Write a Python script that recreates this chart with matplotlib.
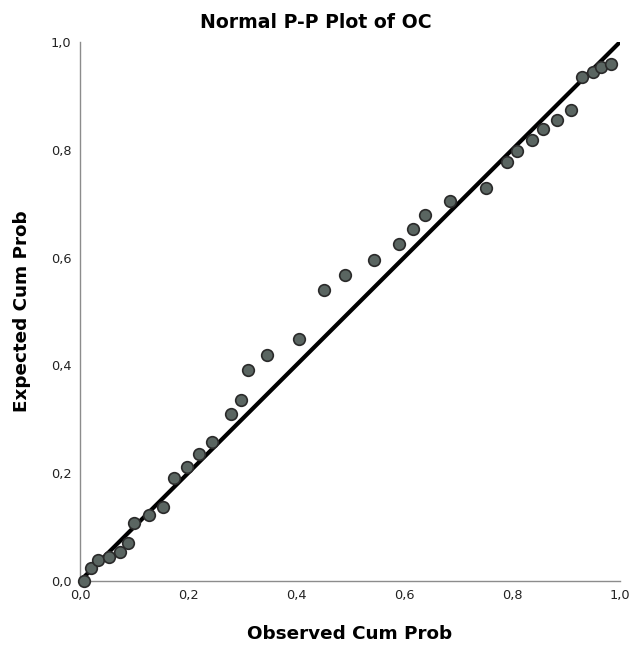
import matplotlib.pyplot as plt
from matplotlib.ticker import FuncFormatter

# Observed vs expected cumulative probabilities
observed = [0.007, 0.020, 0.034, 0.054, 0.074, 0.088, 0.100, 0.127, 0.154,
            0.174, 0.199, 0.220, 0.245, 0.279, 0.299, 0.312, 0.346, 0.405,
            0.452, 0.491, 0.544, 0.591, 0.617, 0.638, 0.685, 0.751, 0.790,
            0.810, 0.837, 0.857, 0.883, 0.910, 0.930, 0.950, 0.964, 0.983]
expected = [0.000, 0.024, 0.039, 0.045, 0.054, 0.071, 0.107, 0.122, 0.138,
            0.192, 0.212, 0.235, 0.258, 0.309, 0.335, 0.391, 0.419, 0.449,
            0.539, 0.568, 0.596, 0.625, 0.653, 0.679, 0.705, 0.730, 0.777,
            0.798, 0.819, 0.839, 0.856, 0.873, 0.935, 0.944, 0.953, 0.960]
diag = [0.0, 1.0]
ticks = [0.0, 0.2, 0.4, 0.6, 0.8, 1.0]

plt.rcParams['font.family'] = ['DejaVu Sans']

W, H = 632, 647
fig = plt.figure(figsize=(W / 100, H / 100), dpi=100)
ax = fig.add_axes([80 / W, 66 / H, 540 / W, 539 / H])

ax.plot(diag, diag, color='black', linewidth=3, solid_capstyle='butt', zorder=2)
ax.scatter(observed, expected, s=70, color='#5a6561', edgecolors='#2a2a2a',
           linewidths=1.2, zorder=3, clip_on=False)

ax.set_xlim(0, 1)
ax.set_ylim(0, 1)
ax.set_xticks(ticks)
ax.set_yticks(ticks)
fmt = FuncFormatter(lambda v, p: f"{v:.1f}".replace('.', ','))
ax.xaxis.set_major_formatter(fmt)
ax.yaxis.set_major_formatter(fmt)
ax.tick_params(length=0, labelsize=9.3, colors='#222222', pad=6)

for side in ['top', 'right']:
    ax.spines[side].set_visible(False)
for side in ['left', 'bottom']:
    ax.spines[side].set_color('#8c8c8c')
    ax.spines[side].set_linewidth(1)

fig.text(0.5, 1 - 22 / H, "Normal P-P Plot of OC", fontsize=13.6,
         fontweight='bold', ha='center', va='center')
fig.text(350 / W, 1 - 634 / H, "Observed Cum Prob", fontsize=13.2,
         fontweight='bold', ha='center', va='center')
fig.text(22 / W, 1 - 311 / H, "Expected Cum Prob", fontsize=13.2,
         fontweight='bold', ha='center', va='center', rotation=90)

fig.savefig('out.png', dpi=100)
